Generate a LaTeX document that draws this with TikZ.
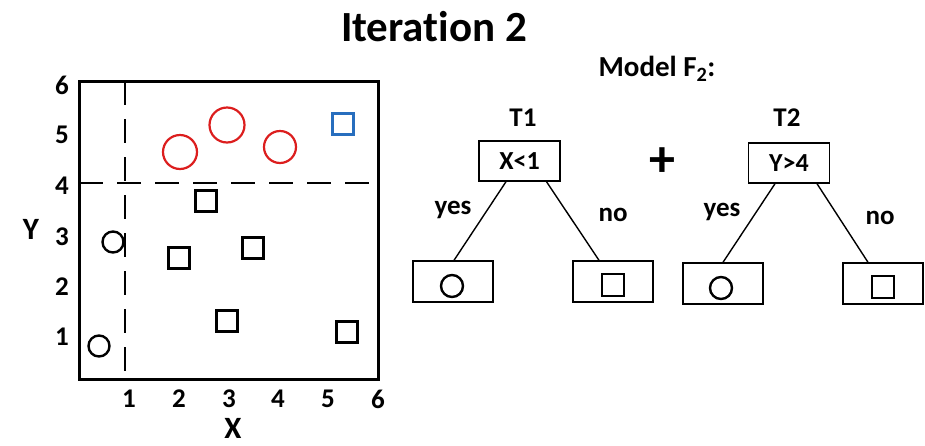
\documentclass[tikz,border=0pt]{standalone}
\usepackage{fontspec}
\setmainfont{Carlito}[Ligatures={NoCommon,NoRare,NoDiscretionary}]
\usetikzlibrary{calc}
\definecolor{myred}{RGB}{220,30,30}
\definecolor{myblue}{RGB}{40,110,190}
\tikzset{
  frame/.style={draw=black, line width=3pt},
  cut/.style={draw=black, line width=2.8pt, dash pattern=on 24pt off 14pt},
  bcirc/.style={circle, draw=black, line width=2.4pt, inner sep=0pt, minimum size=21pt},
  bsq/.style={rectangle, draw=black, line width=2.4pt, inner sep=0pt, minimum size=21pt},
  rcirc/.style={circle, draw=myred, line width=2.2pt, inner sep=0pt},
  blsq/.style={rectangle, draw=myblue, line width=2.2pt, inner sep=0pt, minimum size=21pt},
  lbl/.style={font=\bfseries\fontsize{27}{30}\selectfont, inner sep=0pt},
  axl/.style={font=\bfseries\fontsize{31}{34}\selectfont, inner sep=0pt},
  tbox/.style={rectangle, draw=black, line width=1.4pt, minimum width=81pt, minimum height=40pt, inner sep=0pt, font=\bfseries\fontsize{26}{29}\selectfont},
  leaf/.style={rectangle, draw=black, line width=1.4pt, minimum width=80pt, minimum height=41pt, inner sep=0pt},
  leafc/.style={circle, draw=black, line width=2.4pt, minimum size=22pt, inner sep=0pt},
  leafs/.style={rectangle, draw=black, line width=2.4pt, minimum size=22pt, inner sep=0pt},
  edge/.style={draw=black, line width=1.4pt},
}
\begin{document}
\begin{tikzpicture}[x=1pt,y=-1pt]
\useasboundingbox (0,0) rectangle (925,445);
% title
\node[font=\bfseries\fontsize{43}{46}\selectfont, inner sep=0pt] (title) at (434,27) {Iteration 2};
% plot frame
\node[frame, rectangle, minimum width=299pt, minimum height=298pt, inner sep=0pt] (plot) at (228.5,230) {};
% cut lines
\coordinate (vtop) at (125,81);
\coordinate (vbot) at (125,379);
\coordinate (hl) at (79,183);
\coordinate (hr) at (378,183);
\draw[cut] (vtop) -- (vbot);
\draw[cut] (hl) -- (hr);
% tick labels
\foreach \v/\px in {1/129,2/179,3/229,4/278,5/328,6/378}
  \node[lbl] (xt\v) at (\px,399) {\v};
\foreach \v/\py in {1/337,2/287,3/237,4/186,5/135,6/85}
  \node[lbl] (yt\v) at (62,\py) {\v};
\node[axl] (xlab) at (233,428) {X};
\node[axl] (ylab) at (31,229) {Y};
% points
\node[rcirc, minimum size=34pt] (r1) at (180,152) {};
\node[rcirc, minimum size=35pt] (r2) at (227,125) {};
\node[rcirc, minimum size=32pt] (r3) at (280,147) {};
\node[blsq] (bs) at (343,124) {};
\node[bcirc] (c1) at (113,242) {};
\node[bcirc] (c2) at (99,346) {};
\node[bsq] (s1) at (206,201) {};
\node[bsq] (s2) at (179,258) {};
\node[bsq] (s3) at (253,248) {};
\node[bsq] (s4) at (227,321) {};
\node[bsq] (s5) at (347,332) {};
% model
\node[font=\bfseries\fontsize{29}{32}\selectfont, inner sep=0pt] (model) at (657,69) {Model F\textsubscript{2}:};
\node[lbl] (T1) at (523,118) {T1};
\node[lbl] (T2) at (787,118) {T2};
\node[tbox] (t1) at (519.5,161) {X<1};
\node[tbox] (t2) at (789,163) {Y>4};
\node[font=\bfseries\fontsize{52}{56}\selectfont, inner sep=0pt] (plus) at (662,162) {+};
\node[leaf] (l1) at (453,281.5) {};
\node[leaf] (l2) at (613,281.5) {};
\node[leaf] (l3) at (723,283.5) {};
\node[leaf] (l4) at (883,283.5) {};
\node[leafc] (m1) at (452,286) {};
\node[leafs] (m2) at (613,285) {};
\node[leafc] (m3) at (721,288) {};
\node[leafs] (m4) at (883,287) {};
\draw[edge] ([xshift=-13.5pt]t1.south) -- ([xshift=1pt]l1.north);
\draw[edge] ([xshift=27pt]t1.south) -- ([xshift=-14pt]l2.north);
\draw[edge] ([xshift=-14pt]t2.south) -- ([xshift=0pt]l3.north);
\draw[edge] ([xshift=28pt]t2.south) -- ([xshift=-15pt]l4.north);
\node[lbl] (y1) at (453,210) {yes};
\node[lbl] (n1) at (613,215) {no};
\node[lbl] (y2) at (722,212) {yes};
\node[lbl] (n2) at (880,218) {no};
\end{tikzpicture}
\end{document}
